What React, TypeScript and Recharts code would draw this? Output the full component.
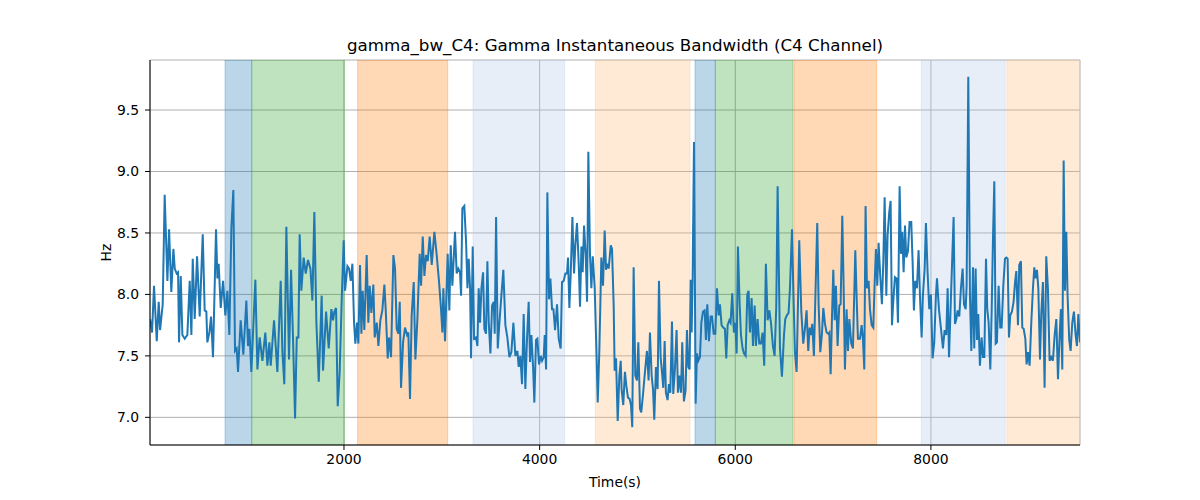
import React from 'react';
import { LineChart, Line, XAxis, YAxis, CartesianGrid, ReferenceArea } from 'recharts';

// sample times (s) and instantaneous bandwidth (Hz)
const TIME_S = [
  17, 38, 58, 86, 106, 120, 147, 167, 195, 212, 235, 256, 270, 290, 304, 314, 331, 348, 372, 399,
  423, 440, 454, 474, 498, 525, 556, 576, 593, 603, 624, 641, 661, 692, 706, 719, 740, 764, 787, 808,
  828, 849, 869, 886, 903, 917, 944, 971, 1002, 1019, 1033, 1053, 1094, 1115, 1138, 1166, 1196, 1217, 1237, 1251,
  1285, 1319, 1353, 1370, 1390, 1411, 1438, 1459, 1479, 1500, 1517, 1534, 1547, 1564, 1588, 1609, 1632,
  1657, 1677, 1697, 1718, 1742, 1772, 1786, 1817, 1844, 1871, 1888, 1902, 1919, 1936, 1956, 1977, 1997, 2011, 2035,
  2052, 2069, 2086, 2103, 2116, 2133, 2147, 2164, 2178, 2191, 2208, 2232, 2249, 2263, 2280, 2300, 2314, 2335, 2352, 2372,
  2392, 2413, 2427, 2447, 2461, 2481, 2505, 2522, 2539, 2556, 2570, 2583, 2604, 2624, 2645, 2658, 2675, 2692, 2713, 2730,
  2750, 2774, 2788, 2805, 2822, 2839, 2856, 2876, 2897, 2924, 2948, 2972, 2992, 3006, 3016, 3033, 3060, 3077, 3091, 3108,
  3135, 3152, 3169, 3186, 3197, 3210, 3230,
  3248, 3262, 3275, 3289, 3299, 3316, 3330, 3350, 3364, 3377, 3391, 3405, 3422, 3435, 3452, 3466, 3480, 3497, 3514, 3531,
  3541, 3555, 3572, 3589, 3609, 3629, 3650, 3670, 3691, 3711, 3732, 3752, 3773, 3786, 3803, 3820, 3837, 3854, 3871, 3888,
  3902, 3916, 3933, 3946, 3963, 3977, 3994, 4011, 4025, 4042, 4052, 4066, 4079, 4096, 4110, 4127, 4141, 4158, 4178, 4195,
  4215, 4229, 4246, 4263, 4280, 4290, 4304, 4318, 4335, 4352, 4365, 4382, 4399, 4413, 4427, 4440, 4454, 4471, 4485, 4498,
  4515, 4529, 4543, 4563, 4580, 4594, 4611, 4631, 4648, 4665, 4679, 4692, 4706, 4727, 4740, 4757, 4767, 4781, 4798, 4815,
  4829,
  4838, 4855, 4872, 4886, 4903, 4920, 4934, 4947, 4961, 4978, 4995, 5009, 5026, 5039, 5056, 5077, 5097, 5114, 5128, 5145,
  5159, 5172, 5189, 5206, 5220, 5237, 5254, 5264, 5278, 5291, 5308, 5322, 5336, 5353, 5366, 5383, 5400, 5414, 5431, 5445,
  5458, 5475, 5492, 5506, 5520, 5533, 5544, 5554, 5564, 5578, 5595, 5608, 5622, 5639, 5653, 5670, 5687, 5700, 5714, 5731,
  5748, 5762, 5779, 5796, 5813, 5830, 5843, 5860, 5877, 5894, 5908, 5922, 5939, 5952, 5969, 5986, 6000, 6014, 6027, 6044,
  6058, 6075, 6089, 6106, 6123, 6136, 6150, 6167, 6181, 6198, 6211, 6228, 6245, 6262, 6279, 6296, 6313, 6331, 6348, 6365,
  6385, 6402, 6419, 6433,
  6457, 6477, 6498, 6511, 6528, 6545, 6559, 6580, 6593, 6610, 6627, 6654, 6675, 6695, 6712, 6729, 6746, 6760, 6774, 6787,
  6804, 6821, 6838, 6852, 6869, 6886, 6900, 6917, 6934, 6951, 6961, 6975, 6988, 7002, 7016, 7029, 7046, 7063, 7077, 7094,
  7108, 7121, 7138, 7152, 7166, 7186, 7203, 7227, 7240, 7254, 7275, 7292, 7305, 7319, 7332, 7346, 7363, 7377, 7394, 7411,
  7424, 7438, 7452, 7465, 7482, 7499, 7513, 7527, 7544, 7557, 7574, 7588, 7602, 7615, 7632, 7649, 7663, 7680, 7694, 7707,
  7721, 7735, 7748, 7765, 7782, 7799, 7813, 7826, 7840, 7857, 7874, 7888, 7905, 7918, 7936, 7949, 7966, 7983, 8000, 8017,
  8034, 8051,
  8062, 8082, 8103, 8123, 8140, 8157, 8171, 8185, 8202, 8219, 8232, 8246, 8260, 8273, 8290, 8307, 8324, 8338, 8355, 8365,
  8382, 8399, 8413, 8430, 8443, 8457, 8471, 8484, 8501, 8518, 8532, 8546, 8563, 8576, 8590, 8607, 8621, 8634, 8648, 8662,
  8675, 8692, 8709, 8723, 8740, 8757, 8771, 8784, 8798, 8811, 8828, 8845, 8859, 8873, 8890, 8903, 8920, 8934, 8948, 8965,
  8978, 8992, 9009, 9026, 9043, 9057, 9070, 9084, 9098, 9115, 9128, 9145, 9162, 9179, 9196, 9213, 9230, 9247, 9265, 9282,
  9299, 9316, 9329, 9343, 9357, 9370, 9384, 9397, 9414, 9428, 9445, 9462, 9479, 9493, 9507, 9524,
];

const GAMMA_BW = [
  7.80, 7.69, 8.07, 7.62, 7.94, 7.71, 7.92, 8.81, 8.11, 8.53, 8.02, 8.37, 8.21, 8.17, 8.18, 7.61, 8.15, 7.67, 7.64, 7.67,
  8.11, 7.67, 8.29, 7.80, 8.31, 7.82, 8.49, 7.87, 7.86, 7.61, 7.69, 7.82, 7.49, 8.53, 8.13, 8.25, 7.89, 8.11, 7.83, 8.03,
  7.67, 8.54, 8.85, 7.54, 7.56, 7.37, 7.79, 7.51, 7.95, 7.58, 7.72, 7.37, 8.12, 7.39, 7.65, 7.46, 7.69, 7.42, 7.61, 7.42,
  7.79, 7.37, 8.11, 7.54, 7.27, 8.55, 7.47, 8.20, 7.64, 6.99, 7.65, 7.65, 8.49, 8.03, 8.30, 8.17, 8.28,
  8.21, 7.95, 8.67, 7.77, 7.29, 7.99, 7.38, 7.86, 7.56, 7.88, 7.79, 7.86, 7.89, 7.09, 7.37, 7.96, 8.44, 8.03, 8.23,
  8.21, 8.11, 8.25, 7.77, 7.60, 7.77, 7.60, 8.24, 7.68, 8.03, 7.71, 8.32, 7.77, 8.07, 7.85, 8.08, 7.65, 7.77, 7.58, 7.79,
  7.87, 8.08, 7.87, 7.48, 7.65, 7.49, 8.32, 8.21, 7.72, 7.68, 7.94, 7.24, 7.61, 7.73, 7.67, 7.69, 7.15, 7.83, 8.10, 7.47,
  7.79, 8.33, 8.07, 8.47, 8.15, 8.32, 8.27, 8.47, 8.24, 8.51, 8.32, 8.10, 7.88, 7.69, 8.05, 7.62, 8.33, 7.87, 8.40, 8.07,
  8.51, 8.17, 8.21, 8.18, 7.99, 8.70, 8.72,
  8.43, 8.05, 8.29, 8.05, 7.48, 8.39, 7.64, 7.65, 7.58, 8.05, 7.77, 8.05, 8.18, 7.72, 7.68, 8.27, 7.77, 7.52, 7.91, 7.94,
  7.68, 8.63, 7.56, 7.77, 7.99, 8.20, 7.75, 7.65, 7.49, 7.53, 7.77, 7.50, 7.54, 7.41, 7.50, 7.27, 7.84, 7.23, 7.64, 7.94,
  7.45, 7.67, 7.41, 7.12, 7.63, 7.64, 7.43, 7.50, 7.46, 7.49, 7.67, 7.39, 8.83, 7.96, 8.13, 7.88, 7.88, 7.71, 7.92, 7.64,
  7.56, 8.10, 8.11, 8.17, 8.17, 8.30, 7.89, 8.17, 8.63, 8.17, 8.40, 8.58, 8.26, 7.90, 8.39, 8.18, 8.56, 8.32, 7.94, 9.16,
  8.32, 8.05, 8.31, 8.05, 7.56, 7.12, 7.56, 8.30, 8.07, 8.52, 8.20, 8.25, 8.21, 8.40, 8.37, 7.91, 7.38, 7.48, 6.97, 7.34,
  7.46,
  7.23, 7.10, 7.37, 7.26, 7.16, 7.15, 7.10, 6.92, 8.22, 7.34, 7.30, 7.61, 7.07, 7.04, 7.18, 7.37, 7.54, 7.30, 7.69, 7.34,
  7.23, 6.98, 7.41, 7.23, 8.11, 7.49, 7.34, 7.24, 7.62, 7.20, 7.14, 7.27, 7.20, 7.78, 7.19, 7.39, 7.71, 7.20, 7.34, 7.20,
  7.61, 7.13, 7.22, 7.71, 7.41, 7.39, 8.12, 7.69, 8.13, 9.24, 7.11, 7.52, 7.46, 7.49, 7.77, 7.86, 7.87, 7.63, 7.92, 7.62,
  7.82, 7.82, 7.68, 7.68, 8.05, 7.83, 7.92, 7.75, 7.73, 7.72, 7.48, 7.75, 7.79, 7.77, 8.01, 7.69, 7.77, 7.52, 8.39, 7.94,
  7.67, 7.56, 7.52, 7.50, 8.00, 8.03, 7.69, 7.97, 7.58, 7.91, 7.58, 7.80, 7.60, 7.60, 7.69, 7.42, 8.25, 7.79, 7.87, 7.77,
  7.58, 7.50, 7.90, 8.88,
  7.56, 7.33, 7.67, 7.80, 7.83, 7.85, 8.05, 8.53, 8.05, 7.53, 7.37, 8.44, 7.86, 7.60, 7.72, 7.87, 7.54, 7.73, 7.67, 7.76,
  7.50, 8.05, 8.58, 7.92, 7.53, 7.68, 7.89, 7.76, 7.69, 7.68, 7.69, 7.35, 7.80, 8.20, 7.79, 8.07, 7.58, 7.91, 7.92, 8.64,
  8.05, 7.39, 7.88, 7.54, 7.80, 7.60, 7.56, 8.36, 7.99, 7.64, 7.64, 7.75, 7.64, 7.39, 8.72, 8.05, 8.11, 7.88, 7.75, 7.73,
  8.07, 8.37, 8.07, 8.42, 8.15, 7.92, 8.26, 8.79, 7.99, 8.48, 8.67, 8.76, 7.75, 7.94, 8.14, 8.13, 7.77, 8.88, 8.33, 8.51,
  8.18, 8.56, 8.30, 8.35, 8.59, 8.59, 8.26, 7.87, 8.11, 8.05, 8.36, 7.99, 7.65, 7.99, 8.21, 8.58, 8.18, 7.88, 8.00, 7.48,
  7.61, 7.99,
  8.13, 7.88, 7.72, 7.56, 7.71, 7.67, 8.05, 7.49, 7.91, 8.32, 8.63, 7.76, 7.80, 7.87, 7.82, 8.05, 8.21, 7.92, 7.88, 8.07,
  9.77, 7.99, 7.54, 8.22, 7.56, 8.21, 7.63, 7.84, 7.42, 7.65, 7.49, 7.49, 8.29, 7.88, 7.77, 7.39, 7.86, 8.44, 8.92, 7.60,
  7.61, 8.07, 7.73, 7.73, 8.07, 8.29, 8.30, 8.29, 7.65, 7.83, 7.86, 7.94, 8.09, 8.19, 7.75, 8.24, 8.27, 7.73, 7.72, 7.64,
  7.43, 7.53, 7.42, 7.77, 8.05, 8.22, 8.13, 8.20, 8.05, 7.47, 7.84, 8.10, 7.24, 8.31, 8.05, 7.46, 7.49, 7.46, 7.67, 7.80,
  7.31, 7.67, 7.88, 7.39, 9.09, 8.03, 8.51, 7.99, 7.63, 7.54, 7.77, 7.86, 7.67, 7.58, 7.84, 7.61,
];

// shaded segments (s)
const BAND_START = [784, 1057, 2139, 3319, 4569, 5588, 5796, 6600, 7902, 8777];
const BAND_END = [1057, 2004, 3060, 4256, 5537, 5796, 6590, 7446, 8760, 9524];
const BAND_COLOR = ['#1f77b4', '#2ca02c', '#ff7f0e', '#aec7e8', '#ffbb78', '#1f77b4', '#2ca02c', '#ff7f0e', '#aec7e8', '#ffbb78'];

const X_TICKS = [2000, 4000, 6000, 8000];
const Y_TICKS = [7.0, 7.5, 8.0, 8.5, 9.0, 9.5];
const X_DOMAIN = [17, 9524];
const Y_DOMAIN = [6.775, 9.907];

const FONT = '"DejaVu Sans", sans-serif';

const chartData = TIME_S.map((t, i) => ({ t, hz: GAMMA_BW[i] }));

const App: React.FC = () => {
  return (
    <div style={{ position: 'absolute', left: 0, top: 0, width: 1200, height: 500, background: '#fff', fontFamily: FONT }}>
      <div style={{ position: 'absolute', left: 150, width: 930, top: 35, textAlign: 'center', fontSize: 16.7, color: '#000', lineHeight: '20px' }}>
        gamma_bw_C4: Gamma Instantaneous Bandwidth (C4 Channel)
      </div>
      <LineChart width={1200} height={500} data={chartData} margin={{ top: 60, right: 120, bottom: 5, left: 90 }}>
        <CartesianGrid stroke="#b0b0b0" strokeWidth={1} />
        {BAND_START.map((s, i) => (
          <ReferenceArea
            key={i}
            x1={s}
            x2={BAND_END[i]}
            fill={BAND_COLOR[i]}
            fillOpacity={0.3}
            stroke={BAND_COLOR[i]}
            strokeOpacity={0.3}
            ifOverflow="hidden"
          />
        ))}
        <XAxis
          dataKey="t"
          type="number"
          domain={X_DOMAIN}
          ticks={X_TICKS}
          allowDataOverflow
          height={50}
          stroke="#000"
          tickSize={5}
          tickMargin={4}
          tick={{ fill: '#000', fontSize: 13.9, fontFamily: FONT }}
          label={{ value: 'Time(s)', position: 'insideBottom', offset: 8, fill: '#000', fontSize: 13.9, fontFamily: FONT }}
        />
        <YAxis
          type="number"
          domain={Y_DOMAIN}
          ticks={Y_TICKS}
          allowDataOverflow
          width={60}
          stroke="#000"
          tickSize={5}
          tickMargin={6}
          tickFormatter={(v: number) => v.toFixed(1)}
          tick={{ fill: '#000', fontSize: 13.9, fontFamily: FONT }}
          label={{ value: 'Hz', angle: -90, position: 'insideLeft', offset: 16, fill: '#000', fontSize: 13.9, fontFamily: FONT, style: { textAnchor: 'middle' } }}
        />
        <XAxis xAxisId="top" orientation="top" type="number" domain={X_DOMAIN} height={0} tick={false} tickLine={false} stroke="#000" />
        <YAxis yAxisId="right" orientation="right" type="number" domain={Y_DOMAIN} width={0} tick={false} tickLine={false} stroke="#000" />
        <Line
          type="linear"
          dataKey="hz"
          stroke="#1f77b4"
          strokeWidth={2}
          dot={false}
          activeDot={false}
          isAnimationActive={false}
        />
      </LineChart>
    </div>
  );
};

export default App;
